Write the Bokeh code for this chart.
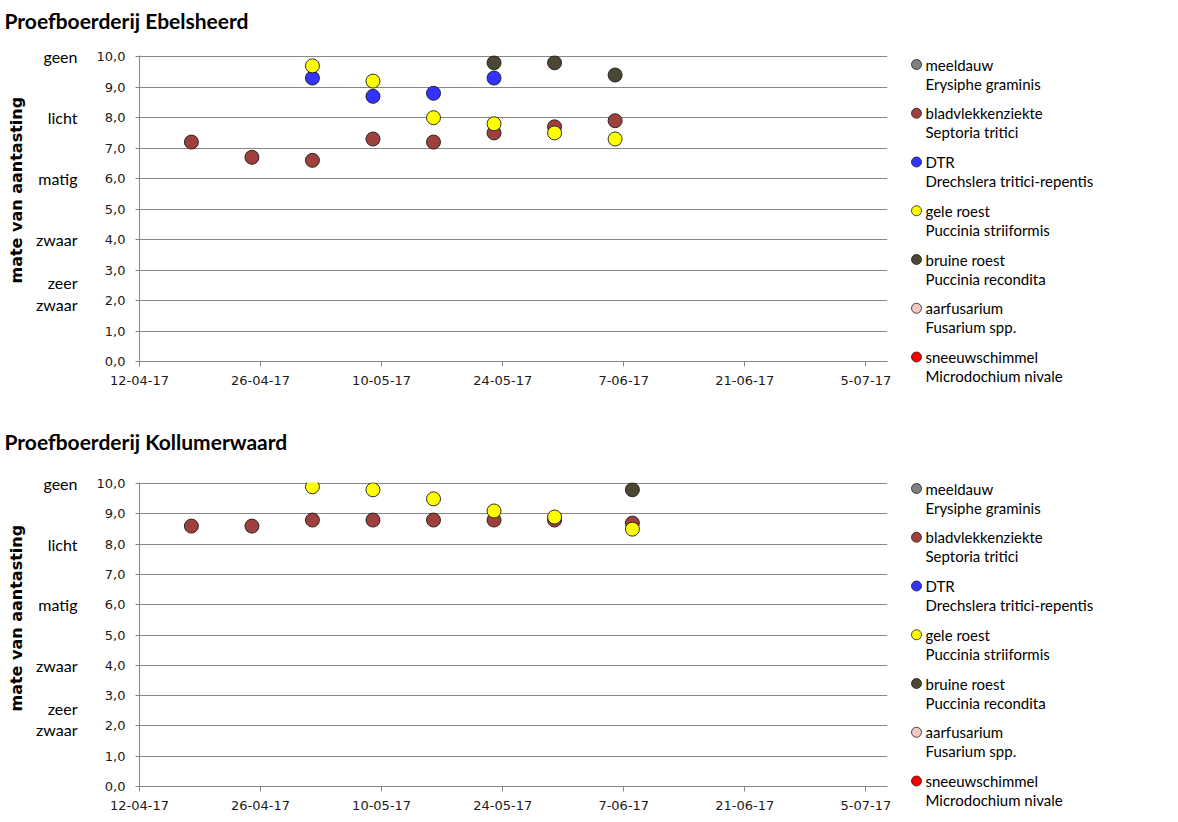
import math
import numpy as np
import pandas as pd
from bokeh.plotting import figure
from bokeh.layouts import column, row
from bokeh.models import Range1d, FixedTicker, LinearAxis, Title, ColumnDataSource
from bokeh.core.properties import value
from bokeh.embed import file_html
from bokeh.resources import INLINE

# ---------------- data ----------------
chart_titles = ["Proefboerderij Ebelsheerd", "Proefboerderij Kollumerwaard"]
x_tick_labels = ["12-04-17", "26-04-17", "10-05-17", "24-05-17", "7-06-17", "21-06-17", "5-07-17"]
y_tick_values = [0, 1, 2, 3, 4, 5, 6, 7, 8, 9, 10]
y_tick_labels = ["0,0", "1,0", "2,0", "3,0", "4,0", "5,0", "6,0", "7,0", "8,0", "9,0", "10,0"]

level_labels = ["geen", "licht", "matig", "zwaar", "zeer\nzwaar"]
level_values = [10, 8, 6, 4, 2]

legend_names = ["meeldauw", "bladvlekkenziekte", "DTR", "gele roest",
                "bruine roest", "aarfusarium", "sneeuwschimmel"]
legend_latin = ["Erysiphe graminis", "Septoria tritici", "Drechslera tritici-repentis",
                "Puccinia striiformis", "Puccinia recondita", "Fusarium spp.",
                "Microdochium nivale"]
legend_colors = ["#808080", "#A0403C", "#3333FF", "#FFFF00", "#4B4732", "#F5C6C6", "#FF0000"]

nan = float("nan")

# Proefboerderij Ebelsheerd
eb_dates = ["18-04-17", "25-04-17", "2-05-17", "9-05-17", "16-05-17", "23-05-17", "30-05-17", "6-06-17"]
eb_bladvlek = [7.2, 6.7, 6.6, 7.3, 7.2, 7.5, 7.7, 7.9]
eb_dtr = [nan, nan, 9.3, 8.7, 8.8, 9.3, nan, nan]
eb_gele = [nan, nan, 9.7, 9.2, 8.0, 7.8, 7.5, 7.3]
eb_bruine = [nan, nan, nan, nan, nan, 9.8, 9.8, 9.4]

# Proefboerderij Kollumerwaard
ko_dates = ["18-04-17", "25-04-17", "2-05-17", "9-05-17", "16-05-17", "23-05-17", "30-05-17", "8-06-17"]
ko_bladvlek = [8.6, 8.6, 8.8, 8.8, 8.8, 8.8, 8.8, 8.7]
ko_dtr = [nan, nan, nan, nan, nan, nan, nan, nan]
ko_gele = [nan, nan, 9.9, 9.8, 9.5, 9.1, 8.9, 8.5]
ko_bruine = [nan, nan, nan, nan, nan, nan, nan, 9.8]

# ---------------- styling / layout ----------------
GRID = "#878787"
LABEL_FONT = "Lato"
TICK_FONT = "DejaVu Sans"
PAGE_W = 1178
PAGE_H = 822
CHART_W = 893
LEG_W = PAGE_W - CHART_W
FRAME_LEFT = 138
FRAME_W = 749
Y_TOP = 10.04


def parse(d):
    return pd.to_datetime(d, format="%d-%m-%y")


x_tick_dt = [parse(s) for s in x_tick_labels]
x_tick_ms = [int(t.value // 10**6) for t in x_tick_dt]
X_START = x_tick_dt[0]
X_END = x_tick_dt[0] + pd.Timedelta(hours=86.5 * 24)

level_ticks = [v + (0.23 if "\n" in lab else 0.0) for lab, v in zip(level_labels, level_values)]


def make_strip(text, height, text_y):
    s = figure(width=CHART_W, height=height, x_range=Range1d(0, CHART_W),
               y_range=Range1d(height, 0), x_axis_type=None, y_axis_type=None,
               min_border=0, output_backend="svg", toolbar_location=None)
    s.outline_line_color = None
    s.grid.visible = False
    src = ColumnDataSource(dict(x=[4], y=[text_y], t=[text]))
    s.text("x", "y", text="t", source=src, text_font=value(LABEL_FONT),
           text_font_style="bold", text_font_size="21px", text_baseline="middle",
           text_align="left", text_color="#000000")
    return s


def make_chart(dates, bladvlek, dtr, gele, bruine, height, b_top, b_bottom, ytitle_offset):
    p = figure(width=CHART_W, height=height, x_axis_type="datetime",
               x_range=Range1d(X_START, X_END), y_range=Range1d(0, Y_TOP),
               output_backend="svg", toolbar_location=None,
               min_border_left=FRAME_LEFT, min_border_right=CHART_W - FRAME_LEFT - FRAME_W,
               min_border_top=b_top, min_border_bottom=b_bottom)
    p.outline_line_color = None
    p.background_fill_color = "white"
    p.border_fill_color = "white"
    p.xgrid.visible = False
    p.ygrid.grid_line_color = GRID
    p.ygrid.grid_line_width = 1

    yax = p.yaxis[0]
    yax.ticker = FixedTicker(ticks=y_tick_values)
    yax.major_label_overrides = dict(zip(y_tick_values, y_tick_labels))
    yax.axis_line_color = GRID
    yax.major_tick_line_color = GRID
    yax.major_tick_in = 0
    yax.major_tick_out = 4
    yax.minor_tick_line_color = None
    yax.major_label_standoff = 10
    yax.major_label_text_font = TICK_FONT
    yax.major_label_text_font_size = "13px"
    yax.major_label_text_color = "#1a1a1a"

    xax = p.xaxis[0]
    xax.ticker = FixedTicker(ticks=x_tick_ms)
    xax.major_label_overrides = dict(zip(x_tick_ms, x_tick_labels))
    xax.axis_line_color = GRID
    xax.major_tick_line_color = GRID
    xax.major_tick_in = 0
    xax.major_tick_out = 5
    xax.minor_tick_line_color = None
    xax.major_label_standoff = 9
    xax.major_label_text_font = TICK_FONT
    xax.major_label_text_font_size = "13px"
    xax.major_label_text_color = "#1a1a1a"

    # qualitative level axis (geen ... zeer zwaar)
    lev = LinearAxis(ticker=FixedTicker(ticks=level_ticks),
                     major_label_overrides=dict(zip(level_ticks, level_labels)))
    lev.axis_line_color = None
    lev.major_tick_line_color = None
    lev.minor_tick_line_color = None
    lev.major_tick_in = 0
    lev.major_tick_out = 0
    lev.major_label_standoff = 16
    lev.major_label_text_font = LABEL_FONT
    lev.major_label_text_font_size = "16px"
    lev.major_label_text_color = "#000000"
    lev.major_label_text_line_height = 1.15
    p.add_layout(lev, "left")

    # vertical axis title
    p.add_layout(Title(text="mate van aantasting", align="left", offset=ytitle_offset,
                       vertical_align="top",
                       text_font=TICK_FONT, text_font_style="bold", text_font_size="16px",
                       text_color="#000000", standoff=12), "left")

    x = [parse(d) for d in dates]
    for vals, col in [(bladvlek, legend_colors[1]), (dtr, legend_colors[2]),
                      (gele, legend_colors[3]), (bruine, legend_colors[4])]:
        src = ColumnDataSource(dict(x=x, y=vals))
        p.scatter("x", "y", source=src, size=14, fill_color=col,
                  line_color="#1a1a1a", line_width=0.9)
    return p


def make_legend(first_ys, pitch):
    lp = figure(width=LEG_W, height=PAGE_H, x_range=Range1d(0, LEG_W),
                y_range=Range1d(PAGE_H, 0), x_axis_type=None, y_axis_type=None,
                min_border=0, output_backend="svg", toolbar_location=None)
    lp.outline_line_color = None
    lp.grid.visible = False
    n = len(legend_names)
    for fy in first_ys:
        ys = [fy + i * pitch for i in range(n)]
        src = ColumnDataSource(dict(x=[23] * n, tx=[32] * n, y=ys, y2=[y + 19 for y in ys],
                                    name=legend_names, latin=legend_latin, color=legend_colors))
        lp.scatter("x", "y", source=src, size=10, fill_color="color",
                   line_color="#1a1a1a", line_width=0.8)
        lp.text("tx", "y", text="name", source=src, text_font=value(LABEL_FONT),
                text_font_size="15px", text_baseline="middle", text_color="#000000")
        lp.text("tx", "y2", text="latin", source=src, text_font=value(LABEL_FONT),
                text_font_size="15px", text_baseline="middle", text_color="#000000")
    return lp


strip1 = make_strip(chart_titles[0], 35, 20)
top = make_chart(eb_dates, eb_bladvlek, eb_dtr, eb_gele, eb_bruine, 381, 20, 55, 78)
strip2 = make_strip(chart_titles[1], 40, 25)
bot = make_chart(ko_dates, ko_bladvlek, ko_dtr, ko_gele, ko_bruine, 366, 26, 36, 75)
leg = make_legend([64, 488], 48.75)

layout = row(column(row(strip1), top, row(strip2), bot), leg)

open("out.html", "w").write(file_html(layout, INLINE))
